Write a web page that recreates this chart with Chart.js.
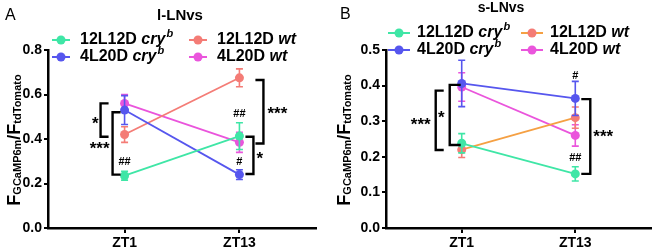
<!DOCTYPE html>
<html>
<head>
<meta charset="utf-8">
<script src="https://cdn.jsdelivr.net/npm/chart.js@4.4.0/dist/chart.umd.min.js"></script>
<style>
  body { margin: 0; background: #fff; width: 656px; height: 250px; overflow: hidden; position: relative; }
  .panel { position: absolute; top: 0; width: 328px; height: 250px; }
  canvas { width: 328px; height: 250px; }
</style>
</head>
<body>
<div class="panel" style="left:0"><canvas id="panelA" width="328" height="250"></canvas></div>
<div class="panel" style="left:328px"><canvas id="panelB" width="328" height="250"></canvas></div>
<script>
// ZT hours on the x axis
const timepoints = [1, 13];
const tickLabels = ['ZT1', 'ZT13'];
const groupNames = ['12L12D', '4L20D', '12L12D', '4L20D'];
const genotypes = ['cry', 'cry', 'wt', 'wt'];

// panel A, l-LNvs
const lCry12 = [0.235, 0.413];
const lCry12Err = [0.02, 0.06];
const lCry4 = [0.53, 0.24];
const lCry4Err = [0.065, 0.022];
const lWt12 = [0.42, 0.675];
const lWt12Err = [0.035, 0.04];
const lWt4 = [0.56, 0.385];
const lWt4Err = [0.04, 0.045];
const lTicks = [0, 0.2, 0.4, 0.6, 0.8];

// panel B, s-LNvs
const sCry12 = [0.238, 0.152];
const sCry12Err = [0.027, 0.02];
const sCry4 = [0.406, 0.364];
const sCry4Err = [0.065, 0.048];
const sWt12 = [0.22, 0.31];
const sWt12Err = [0.022, 0.03];
const sWt4 = [0.396, 0.26];
const sWt4Err = [0.04, 0.03];
const sTicks = [0, 0.1, 0.2, 0.3, 0.4, 0.5];

const FONT = '"Liberation Sans", Arial, sans-serif';
const green = '#3fe6a6';
const blue = '#5656ee';
const salmon = '#f47c76';
const magenta = '#ea55dc';
const orange = '#f5a043';

const errorBars = {
  id: 'errorBars',
  afterDatasetDraw(chart, args) {
    const ds = chart.data.datasets[args.index];
    if (!ds.errors) return;
    const { ctx, scales: { x, y } } = chart;
    ctx.save();
    ctx.strokeStyle = ds.errorColor || ds.borderColor;
    ctx.lineWidth = 1.6;
    ds.data.forEach((p, i) => {
      const px = x.getPixelForValue(p.x);
      const top = y.getPixelForValue(p.y + ds.errors[i]);
      const bot = y.getPixelForValue(p.y - ds.errors[i]);
      ctx.beginPath();
      ctx.moveTo(px, top); ctx.lineTo(px, bot);
      ctx.moveTo(px - 3.5, top); ctx.lineTo(px + 3.5, top);
      ctx.moveTo(px - 3.5, bot); ctx.lineTo(px + 3.5, bot);
      ctx.stroke();
    });
    ctx.restore();
  }
};

const decorations = {
  id: 'decorations',
  afterDraw(chart, args, opts) {
    const { ctx, scales: { x, y } } = chart;
    ctx.save();
    // significance brackets
    ctx.strokeStyle = '#000';
    ctx.lineWidth = 2.4;
    ctx.lineJoin = 'miter';
    opts.brackets.forEach(b => {
      const vx = x.getPixelForValue(b.at) + b.dx;
      const t = y.getPixelForValue(b.from);
      const u = y.getPixelForValue(b.to);
      ctx.beginPath();
      ctx.moveTo(vx + b.arm, t); ctx.lineTo(vx, t); ctx.lineTo(vx, u); ctx.lineTo(vx + b.arm, u);
      ctx.stroke();
    });
    // marks (* and #)
    ctx.fillStyle = '#000';
    opts.marks.forEach(m => {
      const px = x.getPixelForValue(m.at) + m.dx;
      const py = y.getPixelForValue(m.y);
      ctx.textAlign = m.align;
      ctx.textBaseline = 'alphabetic';
      if (m.text.startsWith('*')) {
        ctx.font = 'bold 17px ' + FONT;
        ctx.fillText(m.text, px, py + 17 * 0.6);
      } else {
        ctx.font = 'bold 11px ' + FONT;
        ctx.fillText(m.text, px, py + 4);
      }
    });
    // title and panel letter
    ctx.textBaseline = 'middle';
    ctx.textAlign = 'left';
    ctx.font = '16px ' + FONT;
    ctx.fillText(opts.letter, opts.letterX, opts.letterY);
    ctx.textAlign = 'center';
    ctx.font = 'bold ' + opts.titleSize + 'px ' + FONT;
    ctx.fillText(opts.title, opts.titleX, opts.titleY);
    // legend
    chart.data.datasets.forEach((ds, i) => {
      const col = i < 2 ? 0 : 1;
      const row = i % 2;
      const lx = opts.legendX[col];
      const ly = opts.legendY[row];
      ctx.strokeStyle = ds.borderColor;
      ctx.lineWidth = 2;
      ctx.beginPath();
      ctx.moveTo(lx, ly); ctx.lineTo(lx + opts.markLen, ly);
      ctx.stroke();
      ctx.fillStyle = ds.pointBackgroundColor;
      ctx.beginPath();
      ctx.arc(lx + opts.markLen / 2, ly, 4.5, 0, Math.PI * 2);
      ctx.fill();
      ctx.fillStyle = '#000';
      ctx.textAlign = 'left';
      ctx.textBaseline = 'middle';
      let tx = lx + opts.markLen + opts.textGap;
      ctx.font = 'bold 16px ' + FONT;
      const name = groupNames[i] + ' ';
      ctx.fillText(name, tx, ly);
      tx += ctx.measureText(name).width;
      ctx.font = 'italic bold 16px ' + FONT;
      ctx.fillText(genotypes[i], tx, ly);
      tx += ctx.measureText(genotypes[i]).width;
      if (genotypes[i] === 'cry') {
        ctx.font = 'italic bold 11px ' + FONT;
        ctx.fillText('b', tx + 1, ly - 6);
      }
    });
    // y axis title F_GCaMP6m / F_tdTomato
    const parts = [['F', 18, 0], ['GCaMP6m', 11, 1], ['/', 18, 0], ['F', 18, 0], ['tdTomato', 11, 1]];
    let total = 0;
    parts.forEach(p => { ctx.font = 'bold ' + p[1] + 'px ' + FONT; p.push(ctx.measureText(p[0]).width); total += p[3]; });
    ctx.translate(opts.yTitleX, opts.yTitleY);
    ctx.rotate(-Math.PI / 2);
    ctx.textAlign = 'left';
    ctx.textBaseline = 'alphabetic';
    let cx = -total / 2;
    parts.forEach(p => {
      ctx.font = 'bold ' + p[1] + 'px ' + FONT;
      ctx.fillText(p[0], cx, p[2]);
      cx += p[3];
    });
    ctx.restore();
  }
};

function makeSeries(values, errors, color, pointColor, errorColor) {
  return {
    data: values.map((v, i) => ({ x: timepoints[i], y: v })),
    errors,
    borderColor: color,
    backgroundColor: color,
    pointBackgroundColor: pointColor || color,
    errorColor: errorColor || pointColor || color,
    borderWidth: 1.8,
    pointRadius: 4.5,
    pointBorderWidth: 0,
    fill: false,
    tension: 0,
  };
}

function makePanel(id, datasets, yTicks, yWidth, padRight, deco) {
  const yMax = yTicks[yTicks.length - 1];
  return new Chart(document.getElementById(id), {
    type: 'line',
    data: { datasets },
    options: {
      responsive: false,
      animation: false,
      devicePixelRatio: 1,
      layout: { padding: { left: 0, right: padRight, top: 50, bottom: 0 } },
      plugins: { legend: { display: false }, tooltip: { enabled: false }, decorations: deco },
      scales: {
        x: {
          type: 'linear',
          min: -7,
          max: 21,
          afterBuildTicks: (scale) => { scale.ticks = timepoints.map(v => ({ value: v })); },
          afterFit: (scale) => { scale.height = 22; },
          ticks: {
            color: '#000',
            padding: 2,
            font: { family: FONT, size: 14, weight: 'bold' },
            callback: (v) => tickLabels[timepoints.indexOf(v)],
          },
          grid: { display: true, drawOnChartArea: false, drawTicks: true, tickLength: 5, color: '#000', lineWidth: 2 },
          border: { display: true, color: '#000', width: 2.5 },
        },
        y: {
          min: 0,
          max: yMax,
          afterBuildTicks: (scale) => { scale.ticks = yTicks.map(v => ({ value: v })); },
          afterFit: (scale) => { scale.width = yWidth; },
          ticks: {
            color: '#000',
            padding: 2,
            font: { family: FONT, size: 14, weight: 'bold' },
            callback: (v) => v.toFixed(1),
          },
          grid: { display: true, drawOnChartArea: false, drawTicks: true, tickLength: 4, color: '#000', lineWidth: 2 },
          border: { display: true, color: '#000', width: 2.5 },
        },
      },
    },
    plugins: [errorBars, decorations],
  });
}

makePanel('panelA', [
  makeSeries(lCry12, lCry12Err, green),
  makeSeries(lCry4, lCry4Err, blue),
  makeSeries(lWt12, lWt12Err, salmon),
  makeSeries(lWt4, lWt4Err, magenta),
], lTicks, 48, 12, {
  letter: 'A', letterX: 5, letterY: 16,
  title: 'l-LNvs', titleSize: 15, titleX: 180, titleY: 16,
  legendX: [52, 189], legendY: [40, 57], markLen: 18, textGap: 10,
  yTitleX: 20, yTitleY: 140,
  brackets: [
    { at: 1, dx: -24, arm: 8, from: 0.56, to: 0.41 },
    { at: 1, dx: -12, arm: 8, from: 0.52, to: 0.24 },
    { at: 13, dx: 24, arm: -8, from: 0.665, to: 0.38 },
    { at: 13, dx: 14, arm: -8, from: 0.41, to: 0.243 },
  ],
  marks: [
    { at: 1, dx: -26, y: 0.49, text: '*', align: 'right' },
    { at: 1, dx: -15, y: 0.38, text: '***', align: 'right' },
    { at: 13, dx: 28, y: 0.535, text: '***', align: 'left' },
    { at: 13, dx: 17, y: 0.333, text: '*', align: 'left' },
    { at: 1, dx: 0, y: 0.30, text: '##', align: 'center' },
    { at: 13, dx: 0, y: 0.517, text: '##', align: 'center' },
    { at: 13, dx: 0, y: 0.30, text: '#', align: 'center' },
  ],
});

makePanel('panelB', [
  makeSeries(sCry12, sCry12Err, green),
  makeSeries(sCry4, sCry4Err, blue),
  makeSeries(sWt12, sWt12Err, orange, salmon),
  makeSeries(sWt4, sWt4Err, magenta),
], sTicks, 58, 5, {
  letter: 'B', letterX: 12, letterY: 15,
  title: 's-LNvs', titleSize: 14, titleX: 173, titleY: 8,
  legendX: [60, 193], legendY: [33, 50], markLen: 22, textGap: 7,
  yTitleX: 22, yTitleY: 140,
  brackets: [
    { at: 1, dx: -26, arm: 8, from: 0.386, to: 0.219 },
    { at: 1, dx: -12, arm: 11, from: 0.402, to: 0.233 },
    { at: 13, dx: 15, arm: -9, from: 0.362, to: 0.152 },
  ],
  marks: [
    { at: 1, dx: -31, y: 0.303, text: '***', align: 'right' },
    { at: 1, dx: -17, y: 0.323, text: '*', align: 'right' },
    { at: 13, dx: 18, y: 0.27, text: '***', align: 'left' },
    { at: 13, dx: 0, y: 0.43, text: '#', align: 'center' },
    { at: 13, dx: 0, y: 0.2, text: '##', align: 'center' },
  ],
});
</script>
</body>
</html>
